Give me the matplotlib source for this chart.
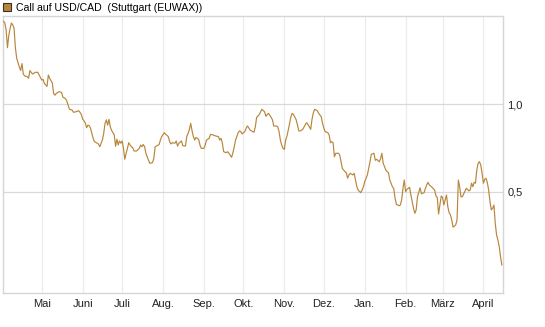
import datetime as dt
import numpy as np
import matplotlib
matplotlib.use("Agg")
import matplotlib.pyplot as plt
from matplotlib.patches import Patch

# Call auf USD/CAD, daily closes (days since 2024-04-01)
start = dt.datetime(2024, 4, 1)
days = [1, 2, 3, 4, 5, 6, 7, 8, 9, 10, 11, 13, 14, 15, 16, 17, 19, 20, 21, 23,
        25, 27, 28, 30, 31, 32, 34, 35, 36, 38, 39, 40, 41, 43, 45, 46, 48, 49, 50, 51,
        53, 54, 56, 58, 59, 60, 61, 63, 64, 65, 66, 67, 68, 69, 70, 71, 73, 74, 76, 77,
        78, 79, 80, 81, 82, 83, 85, 86, 87, 88, 89, 90, 91, 92, 93, 94, 95, 96, 97, 98,
        99, 100, 102, 104, 105, 106, 107, 108, 109, 111, 112, 114, 115, 116, 117, 119, 120, 121, 123, 124,
        126, 127, 128, 129, 131, 132, 133, 134, 136, 137, 139, 140, 141, 142, 143, 144, 145, 146, 147, 149,
        150, 151, 153, 154, 155, 157, 158, 160, 162, 164, 165, 166, 167, 168, 170, 171, 172, 174, 175, 176,
        177, 179, 180, 181, 182, 184, 185, 186, 187, 188, 190, 191, 192, 193, 195, 196, 197, 199, 200, 201,
        202, 204, 205, 206, 208, 209, 210, 211, 212, 213, 214, 215, 216, 217, 219, 220, 221, 223, 224, 225,
        226, 228, 229, 230, 231, 233, 234, 235, 236, 237, 239, 240, 242, 243, 244, 245, 247, 248, 249, 250,
        251, 252, 253, 255, 256, 257, 258, 260, 261, 262, 263, 264, 266, 267, 268, 269, 270, 272, 273, 274,
        275, 277, 278, 279, 280, 282, 283, 284, 286, 287, 288, 289, 291, 292, 293, 294, 296, 297, 298, 299,
        301, 302, 303, 304, 305, 306, 307, 308, 309, 310, 312, 313, 314, 315, 317, 318, 320, 321, 322, 323,
        324, 326, 328, 329, 330, 331, 332, 333, 334, 335, 336, 337, 338, 339, 340, 341, 342, 344, 345, 346,
        347, 348, 349, 350, 352, 353, 354, 355, 356, 357, 358, 359, 360, 361, 362, 363, 364, 365, 366, 367,
        368, 369, 370, 371, 372, 373, 374, 375, 376, 377, 378, 379]
prices = [1.47, 1.46, 1.42, 1.32, 1.39, 1.43, 1.46, 1.45, 1.43, 1.32, 1.26, 1.21, 1.19, 1.23, 1.17, 1.16, 1.155, 1.146, 1.19, 1.17,
          1.18, 1.18, 1.165, 1.136, 1.14, 1.117, 1.10, 1.165, 1.146, 1.12, 1.06, 1.05, 1.06, 1.07, 1.066, 1.04, 1.03, 1.017, 0.994, 0.97,
          0.966, 0.953, 0.956, 0.962, 0.953, 0.94, 0.915, 0.894, 0.865, 0.88, 0.877, 0.862, 0.833, 0.805, 0.786, 0.782, 0.773, 0.757, 0.795, 0.833,
          0.89, 0.91, 0.88, 0.913, 0.87, 0.85, 0.824, 0.76, 0.80, 0.767, 0.79, 0.777, 0.79, 0.748, 0.686, 0.72, 0.748, 0.78, 0.767, 0.757,
          0.752, 0.733, 0.733, 0.748, 0.767, 0.757, 0.77, 0.757, 0.72, 0.68, 0.663, 0.667, 0.69, 0.757, 0.761, 0.77, 0.795, 0.815, 0.837, 0.828,
          0.815, 0.786, 0.773, 0.78, 0.777, 0.79, 0.761, 0.777, 0.79, 0.763, 0.761, 0.815, 0.833, 0.856, 0.89, 0.848, 0.815, 0.795, 0.81, 0.80,
          0.767, 0.748, 0.748, 0.767, 0.795, 0.805, 0.828, 0.824, 0.818, 0.815, 0.795, 0.805, 0.777, 0.729, 0.723, 0.729, 0.72, 0.697, 0.723, 0.757,
          0.795, 0.837, 0.847, 0.843, 0.83, 0.843, 0.862, 0.875, 0.865, 0.852, 0.843, 0.84, 0.87, 0.924, 0.94, 0.956, 0.97, 0.956, 0.93, 0.94,
          0.947, 0.924, 0.91, 0.875, 0.875, 0.87, 0.843, 0.795, 0.767, 0.748, 0.742, 0.795, 0.818, 0.852, 0.928, 0.947, 0.94, 0.91, 0.88, 0.847,
          0.847, 0.856, 0.87, 0.884, 0.894, 0.87, 0.856, 0.913, 0.95, 0.97, 0.962, 0.947, 0.928, 0.89, 0.862, 0.843, 0.837, 0.824, 0.78, 0.786,
          0.78, 0.70, 0.72, 0.72, 0.71, 0.672, 0.634, 0.615, 0.61, 0.578, 0.597, 0.606, 0.597, 0.606, 0.568, 0.53, 0.511, 0.496, 0.511, 0.53,
          0.559, 0.597, 0.634, 0.672, 0.714, 0.72, 0.68, 0.686, 0.672, 0.69, 0.72, 0.663, 0.625, 0.615, 0.61, 0.568, 0.53, 0.52, 0.464, 0.43,
          0.422, 0.426, 0.455, 0.52, 0.568, 0.502, 0.515, 0.52, 0.527, 0.483, 0.407, 0.379, 0.398, 0.473, 0.524, 0.49, 0.496, 0.52, 0.54, 0.555,
          0.54, 0.527, 0.511, 0.477, 0.47, 0.375, 0.426, 0.477, 0.47, 0.426, 0.455, 0.483, 0.417, 0.383, 0.37, 0.341, 0.30, 0.313, 0.341, 0.568,
          0.53, 0.473, 0.473, 0.489, 0.52, 0.515, 0.506, 0.511, 0.55, 0.53, 0.555, 0.55, 0.625, 0.663, 0.672, 0.653, 0.606, 0.55, 0.572, 0.578,
          0.553, 0.511, 0.445, 0.398, 0.407, 0.426, 0.322, 0.256, 0.227, 0.19, 0.132, 0.085]

month_labels = ["Mai", "Juni", "Juli", "Aug.", "Sep.", "Okt.", "Nov.", "Dez.",
                "Jan.", "Feb.", "März", "April"]
y_ticks = [0.5, 1.0]
y_labels = ["0,5", "1,0"]
title = "Call auf USD/CAD  (Stuttgart (EUWAX))"

dates = [start + dt.timedelta(days=d) for d in days]
line_color = "#b8863b"

plt.rcParams["font.family"] = ["Liberation Sans", "DejaVu Sans"]
fig = plt.figure(figsize=(5.45, 3.27), dpi=100)
ax = fig.add_axes([0.005, 0.104, 0.918, 0.847])

ax.plot(dates, prices, color=line_color, lw=0.85, zorder=3)

ax.set_xlim(start + dt.timedelta(days=0.4), start + dt.timedelta(days=379.9))
ax.set_ylim(-0.074, 1.5)

month_starts = [dt.datetime(2024 + (4 + i) // 12, (4 + i) % 12 + 1, 1) for i in range(len(month_labels))]
ax.set_xticks(month_starts)
ax.set_xticklabels(month_labels)
ax.set_yticks(y_ticks)
ax.set_yticklabels(y_labels)
ax.yaxis.tick_right()

ax.tick_params(axis="both", length=0, labelsize=8, colors="#222222")
ax.tick_params(axis="x", pad=4)
ax.tick_params(axis="y", pad=3)

ax.grid(axis="x", color="#ececec", lw=0.9, zorder=0)
ax.grid(axis="y", color="#d9d9d9", lw=0.9, zorder=0)
for s in ax.spines.values():
    s.set_color("#d6d6d6")
    s.set_linewidth(1.0)

fig.legend(handles=[Patch(facecolor=line_color, edgecolor="#333333", lw=0.8)],
           labels=[title], loc="upper left", bbox_to_anchor=(0.0, 1.0),
           frameon=False, fontsize=7.6, handlelength=0.75, handleheight=0.75,
           handletextpad=0.5, borderaxespad=0.0, borderpad=0.25)

fig.savefig("out.png", dpi=100)
